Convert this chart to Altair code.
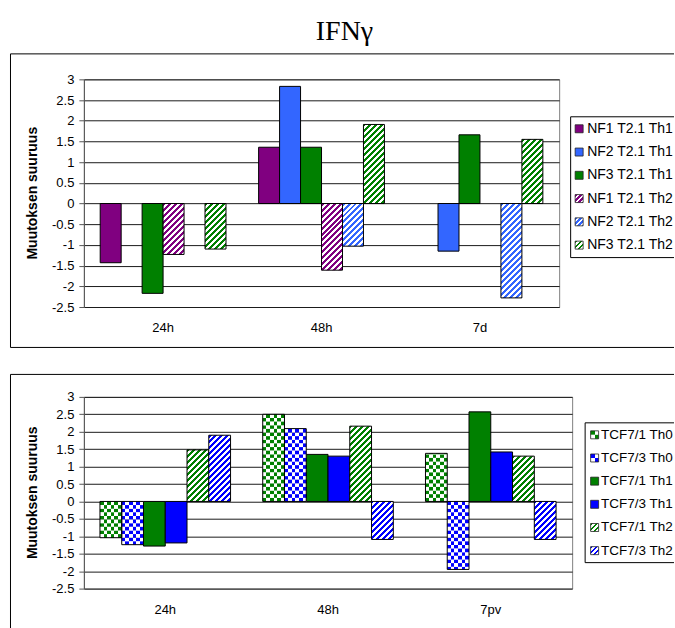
import math
import pandas as pd
import altair as alt

# ---------------- data ----------------
YMIN, YMAX = -2.5, 3.0
y_ticks = [-2.5, -2, -1.5, -1, -0.5, 0, 0.5, 1, 1.5, 2, 2.5, 3]

cats_top = ["24h", "48h", "7d"]
series_top = ["NF1 T2.1 Th1", "NF2 T2.1 Th1", "NF3 T2.1 Th1",
              "NF1 T2.1 Th2", "NF2 T2.1 Th2", "NF3 T2.1 Th2"]
nf1_th1 = [-1.43, 1.36, None]
nf2_th1 = [None, 2.83, -1.15]
nf3_th1 = [-2.17, 1.36, 1.66]
nf1_th2 = [-1.23, -1.61, None]
nf2_th2 = [None, -1.03, -2.28]
nf3_th2 = [-1.10, 1.91, 1.55]
vals_top = [nf1_th1, nf2_th1, nf3_th1, nf1_th2, nf2_th2, nf3_th2]

cats_bot = ["24h", "48h", "7pv"]
series_bot = ["TCF7/1 Th0", "TCF7/3 Th0", "TCF7/1 Th1",
              "TCF7/3 Th1", "TCF7/1 Th2", "TCF7/3 Th2"]
tcf1_th0 = [-1.04, 2.50, 1.38]
tcf3_th0 = [-1.24, 2.09, -1.95]
tcf1_th1 = [-1.28, 1.35, 2.57]
tcf3_th1 = [-1.19, 1.30, 1.42]
tcf1_th2 = [1.48, 2.16, 1.30]
tcf3_th2 = [1.90, -1.09, -1.09]
vals_bot = [tcf1_th0, tcf3_th0, tcf1_th1, tcf3_th1, tcf1_th2, tcf3_th2]

# ---------------- styles ----------------
colors_top = ["#800080", "#3366FF", "#008000", "#800080", "#3366FF", "#008000"]
kinds_top = ["solid", "solid", "solid", "hatch", "hatch", "hatch"]
colors_bot = ["#008000", "#0000FF", "#008000", "#0000FF", "#008000", "#0000FF"]
kinds_bot = ["check", "check", "solid", "solid", "hatch", "hatch"]

SANS = "Liberation Sans"
SERIF = "Liberation Serif"


def hatch_grad(color, w, h, P=6.0):
    L = w + h
    d = w * w + h * h
    x2 = L * w / d
    y2 = L * h / d
    stops = []
    n = int(math.ceil(L / P))
    for k in range(n):
        a = min(k * P / L, 1)
        b = min((k + 0.5) * P / L, 1)
        c = min((k + 1) * P / L, 1)
        stops += [(a, color), (b, color), (b, "white"), (c, "white")]
    return {"gradient": "linear", "x1": 0, "y1": 0, "x2": x2, "y2": y2,
            "stops": [{"offset": o, "color": c} for o, c in stops]}


def vstripe_grad(color, ncell, phase):
    stops = []
    for j in range(ncell):
        c = color if (j + phase) % 2 == 0 else "white"
        stops += [(j / ncell, c), ((j + 1) / ncell, c)]
    return {"gradient": "linear", "x1": 0, "y1": 0, "x2": 1, "y2": 0,
            "stops": [{"offset": o, "color": c} for o, c in stops]}


def panel(cats, series, vals, colors, kinds, g):
    OX, OY, W, H = g["ox"], g["oy"], g["w"], g["h"]

    def rx(px):
        return px - OX

    def ry(py):
        return py - OY

    ppu = H / (YMAX - YMIN)
    step = W / len(cats) / (len(series) + 2 * g["pad"])

    rows = []
    for s, vl in zip(series, vals):
        for c, v in zip(cats, vl):
            if v is not None:
                rows.append({"cat": c, "series": s, "value": v})
    df = pd.DataFrame(rows)

    xaxis = alt.Axis(ticks=False, tickSize=0, domain=False, labelFontSize=13,
                     labelFont=SANS, labelPadding=15, labelColor="black",
                     labelAngle=0, title=None)
    yaxis = alt.Axis(values=y_ticks, labelExpr="datum.value + ''", grid=True,
                     gridColor="#1a1a1a", gridWidth=1, domainColor="#555555",
                     tickColor="#555555", tickSize=5, labelPadding=5,
                     labelFontSize=13, labelFont=SANS, labelColor="black",
                     title=None)
    X = alt.X("cat:N", scale=alt.Scale(domain=cats, paddingInner=0, paddingOuter=0),
              axis=xaxis)
    XO = alt.XOffset("series:N", scale=alt.Scale(domain=series, paddingInner=0,
                                                  paddingOuter=g["pad"]))
    yscale = alt.Scale(domain=[YMIN, YMAX], nice=False, zero=False)
    Yv = alt.Y("value:Q", scale=yscale, axis=yaxis, stack=None)

    dummy = alt.Chart(pd.DataFrame({"d": [0]}))
    layers = []
    # invisible anchor defining the panel's extent on the page
    layers.append(dummy.mark_rect(fill="white", opacity=0).encode(
        x=alt.value(rx(0)), x2=alt.value(rx(674)),
        y=alt.value(ry(g["top"])), y2=alt.value(ry(g["bottom"]))))

    # outer frame (open on the right)
    bx, bt, bb = g["box_left"], g["box_top"], g["box_bottom"]
    layers.append(dummy.mark_rule(color="black", strokeWidth=1).encode(
        x=alt.value(rx(bx)), x2=alt.value(rx(674)), y=alt.value(ry(bt))))
    layers.append(dummy.mark_rule(color="black", strokeWidth=1).encode(
        x=alt.value(rx(bx)), y=alt.value(ry(bt)), y2=alt.value(ry(min(bb, g["bottom"])))))
    if bb < g["bottom"]:
        layers.append(dummy.mark_rule(color="black", strokeWidth=1).encode(
            x=alt.value(rx(bx)), x2=alt.value(rx(674)), y=alt.value(ry(bb))))

    if g.get("title"):
        layers.append(dummy.mark_text(text=g["title"], font=SERIF, fontSize=28,
                                      align="center", baseline="alphabetic",
                                      color="black").encode(
            x=alt.value(rx(344)), y=alt.value(ry(39))))

    # y axis title
    layers.append(dummy.mark_text(text="Muutoksen suuruus", font=SANS, fontSize=14,
                                  fontWeight="bold", angle=270, align="center",
                                  baseline="middle", color="black").encode(
        x=alt.value(rx(32.5)), y=alt.value(H / 2)))

    # legend frame
    lx, lt, lb = g["leg_left"], g["leg_top"], g["leg_bottom"]
    layers.append(dummy.mark_rule(color="black", strokeWidth=1).encode(
        x=alt.value(rx(lx)), x2=alt.value(rx(674)), y=alt.value(ry(lt))))
    layers.append(dummy.mark_rule(color="black", strokeWidth=1).encode(
        x=alt.value(rx(lx)), y=alt.value(ry(lt)), y2=alt.value(ry(lb))))
    layers.append(dummy.mark_rule(color="black", strokeWidth=1).encode(
        x=alt.value(rx(lx)), x2=alt.value(rx(674)), y=alt.value(ry(lb))))

    # legend entries
    ix = g["icon_x"]
    isz = 8
    for i, (s, col, kind) in enumerate(zip(series, colors, kinds)):
        cy = g["leg_y0"] + i * g["leg_step"]
        x0, x1 = rx(ix), rx(ix + isz)
        y0, y1 = ry(cy - isz / 2), ry(cy + isz / 2)
        if kind == "solid":
            layers.append(dummy.mark_rect(fill=col, stroke="#222", strokeWidth=0.8).encode(
                x=alt.value(x0), x2=alt.value(x1), y=alt.value(y0), y2=alt.value(y1)))
        elif kind == "hatch":
            layers.append(dummy.mark_rect(fill=hatch_grad(col, isz, isz, 5.0),
                                          stroke="#222", strokeWidth=0.8).encode(
                x=alt.value(x0), x2=alt.value(x1), y=alt.value(y0), y2=alt.value(y1)))
        else:
            ym = (y0 + y1) / 2
            layers.append(dummy.mark_rect(fill=vstripe_grad(col, 2, 0)).encode(
                x=alt.value(x0), x2=alt.value(x1), y=alt.value(y0), y2=alt.value(ym)))
            layers.append(dummy.mark_rect(fill=vstripe_grad(col, 2, 1)).encode(
                x=alt.value(x0), x2=alt.value(x1), y=alt.value(ym), y2=alt.value(y1)))
            layers.append(dummy.mark_rect(fill="white", fillOpacity=0, stroke="#222",
                                          strokeWidth=0.8).encode(
                x=alt.value(x0), x2=alt.value(x1), y=alt.value(y0), y2=alt.value(y1)))
        layers.append(dummy.mark_text(text=s, font=SANS, fontSize=g["leg_fs"], align="left",
                                      baseline="middle", color="black",
                                      limit=674 - g["text_x"], ellipsis="\u200b").encode(
            x=alt.value(rx(g["text_x"])), y=alt.value(ry(cy))))

    # ---- bars ----
    solid = [s for s, k in zip(series, kinds) if k == "solid"]
    layers.append(alt.Chart(df).transform_filter(
        alt.FieldOneOfPredicate(field="series", oneOf=solid)
    ).mark_bar(stroke="black", strokeWidth=1).encode(
        x=X, xOffset=XO, y=Yv,
        color=alt.Color("series:N", scale=alt.Scale(domain=series, range=colors), legend=None)))

    # hatched bars (one gradient per bar, sized from its value)
    for s, col, kind in zip(series, colors, kinds):
        if kind != "hatch":
            continue
        for r in rows:
            if r["series"] != s:
                continue
            h = abs(r["value"]) * ppu
            layers.append(alt.Chart(df).transform_filter(
                f"datum.series == '{s}' && datum.cat == '{r['cat']}'"
            ).mark_bar(fill=hatch_grad(col, step, h), stroke="black", strokeWidth=1).encode(
                x=X, xOffset=XO, y=Yv))

    # checkered bars: split each bar into rows of square cells
    checks = [(s, col) for s, col, k in zip(series, colors, kinds) if k == "check"]
    if checks:
        ncell = 6
        rh = (step / ncell) / ppu
        check_rows = alt.Chart(df).transform_filter(
            alt.FieldOneOfPredicate(field="series", oneOf=[s for s, _ in checks])
        ).transform_calculate(
            idx=f"sequence(0, ceil(abs(datum.value) / {rh} - 1e-9))"
        ).transform_flatten(["idx"]).transform_calculate(
            y0=f"(datum.value < 0 ? -1 : 1) * datum.idx * {rh}",
            y1=f"(datum.value < 0 ? -1 : 1) * min((datum.idx + 1) * {rh}, abs(datum.value))",
            par="datum.idx % 2",
        )
        Yr = alt.Y("y0:Q", scale=yscale, axis=yaxis)
        for s, col in checks:
            for p in (0, 1):
                layers.append(check_rows.transform_filter(
                    f"datum.series == '{s}' && datum.par == {p}"
                ).mark_bar(fill=vstripe_grad(col, ncell, p)).encode(
                    x=X, xOffset=XO, y=Yr, y2="y1:Q"))
        layers.append(alt.Chart(df).transform_filter(
            alt.FieldOneOfPredicate(field="series", oneOf=[s for s, _ in checks])
        ).mark_bar(fill="white", fillOpacity=0, stroke="black", strokeWidth=1).encode(
            x=X, xOffset=XO, y=Yv))

    return alt.layer(*layers).properties(width=W, height=H)


g_top = dict(ox=83, oy=78, w=476, h=228, pad=0.778, top=0, bottom=360,
             box_left=9.5, box_top=52.5, box_bottom=346.5,
             leg_left=570.5, leg_top=115.5, leg_bottom=256.5,
             leg_y0=127.5, leg_step=23.3, icon_x=575, text_x=587, leg_fs=14,
             title="IFN\u03b3")
g_bot = dict(ox=83, oy=394, w=489, h=192, pad=0.739, top=360, bottom=627,
             box_left=9.5, box_top=371.5, box_bottom=1000,
             leg_left=585, leg_top=420, leg_bottom=560,
             leg_y0=432, leg_step=23.2, icon_x=590.5, text_x=601, leg_fs=13.5)

top = panel(cats_top, series_top, vals_top, colors_top, kinds_top, g_top)
bot = panel(cats_bot, series_bot, vals_bot, colors_bot, kinds_bot, g_bot)

chart = alt.vconcat(top, bot, spacing=0).resolve_scale(
    x="independent", y="independent", xOffset="independent", color="independent"
).properties(
    padding=0, background="white"
).configure_view(stroke="#808080", strokeWidth=1)

chart.save("out.html", embed_options={"renderer": "svg", "actions": False})
